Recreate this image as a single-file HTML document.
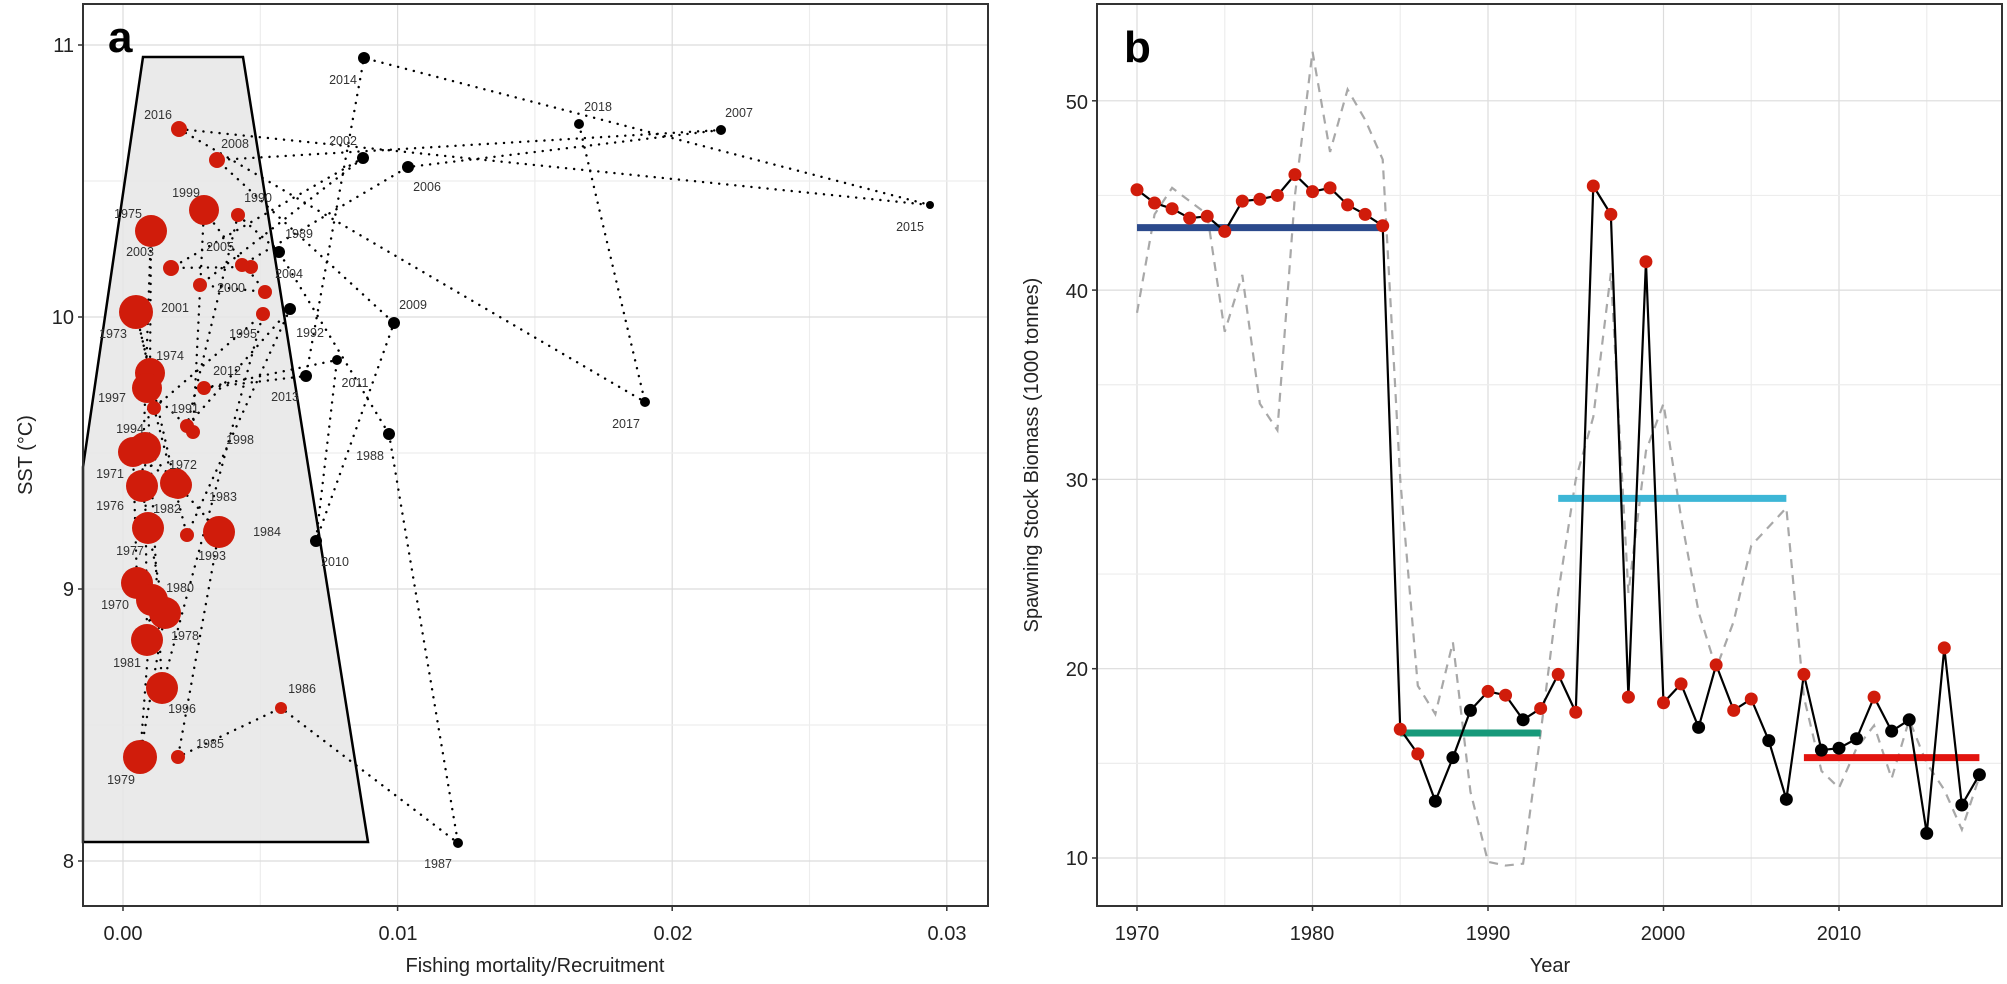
<!DOCTYPE html>
<html><head><meta charset="utf-8"><style>
html,body{margin:0;padding:0;background:#fff;}
svg{display:block;font-family:"Liberation Sans",Arial,sans-serif;}
</style></head><body>
<svg id="s" width="2007" height="984" viewBox="0 0 2007 984" xmlns="http://www.w3.org/2000/svg">
<rect width="2007" height="984" fill="#fff"/>
<g id="ga"></g>
<g id="gb"></g>
<!-- panel a text -->
<g font-size="20" fill="#222" text-anchor="end">
<text x="74" y="52">11</text><text x="74" y="324">10</text><text x="74" y="596">9</text><text x="74" y="868">8</text>
</g>
<g font-size="20" fill="#222" text-anchor="middle">
<text x="123" y="940">0.00</text><text x="398" y="940">0.01</text><text x="673" y="940">0.02</text><text x="947" y="940">0.03</text>
<text x="535" y="972">Fishing mortality/Recruitment</text>
<text transform="translate(32,455) rotate(-90)">SST (°C)</text>
</g>
<text x="108" y="52" font-size="44" font-weight="bold" fill="#000">a</text>
<g font-size="12.5" fill="#333" text-anchor="middle">
<text x="158" y="119">2016</text><text x="235" y="148">2008</text><text x="343" y="145">2002</text><text x="343" y="84">2014</text>
<text x="186" y="197">1999</text><text x="258" y="202">1990</text><text x="128" y="218">1975</text><text x="299" y="238">1989</text>
<text x="140" y="256">2003</text><text x="220" y="251">2005</text><text x="289" y="278">2004</text><text x="231" y="292">2000</text>
<text x="427" y="191">2006</text><text x="175" y="312">2001</text><text x="413" y="309">2009</text>
<text x="113" y="338">1973</text><text x="243" y="338">1995</text><text x="310" y="337">1992</text><text x="170" y="360">1974</text>
<text x="227" y="375">2012</text><text x="355" y="387">2011</text><text x="285" y="401">2013</text><text x="112" y="402">1997</text>
<text x="185" y="413">1991</text><text x="130" y="433">1994</text><text x="240" y="444">1998</text><text x="370" y="460">1988</text>
<text x="183" y="469">1972</text><text x="110" y="478">1971</text><text x="223" y="501">1983</text><text x="110" y="510">1976</text>
<text x="167" y="513">1982</text><text x="267" y="536">1984</text><text x="130" y="555">1977</text><text x="212" y="560">1993</text>
<text x="335" y="566">2010</text><text x="180" y="592">1980</text><text x="115" y="609">1970</text><text x="185" y="640">1978</text>
<text x="127" y="667">1981</text><text x="302" y="693">1986</text><text x="182" y="713">1996</text><text x="210" y="748">1985</text>
<text x="121" y="784">1979</text><text x="438" y="868">1987</text>
<text x="598" y="111">2018</text><text x="739" y="117">2007</text><text x="910" y="231">2015</text><text x="626" y="428">2017</text>
</g>
<!-- panel b text -->
<g font-size="20" fill="#222" text-anchor="end">
<text x="1088" y="865">10</text><text x="1088" y="676">20</text><text x="1088" y="487">30</text><text x="1088" y="298">40</text><text x="1088" y="109">50</text>
</g>
<g font-size="20" fill="#222" text-anchor="middle">
<text x="1137" y="940">1970</text><text x="1312" y="940">1980</text><text x="1488" y="940">1990</text><text x="1663" y="940">2000</text><text x="1839" y="940">2010</text>
<text x="1550" y="972">Year</text>
<text transform="translate(1038,455) rotate(-90)">Spawning Stock Biomass (1000 tonnes)</text>
</g>
<text x="1124" y="62" font-size="44" font-weight="bold" fill="#000">b</text>
</svg>
<script>
var NS="http://www.w3.org/2000/svg";
function el(p,t,a){var e=document.createElementNS(NS,t);for(var k in a)e.setAttribute(k,a[k]);p.appendChild(e);return e;}
var ga=document.getElementById("ga"),gb=document.getElementById("gb");
var AX=function(v){return 123+v*27460;},AY=function(s){return 45+(11-s)*272;};
var L=83,T=4,R=988,B=906;
el(ga,"rect",{x:L,y:T,width:R-L,height:B-T,fill:"#fff"});
for(var v=-0.0;v<=0.0301;v+=0.005){el(ga,"line",{x1:AX(v),x2:AX(v),y1:T,y2:B,stroke:Math.abs(v*100-Math.round(v*100))<1e-6?"#dcdcdc":"#ededed","stroke-width":1.2});}
for(var s=7.5;s<=11.01;s+=0.5){var y=AY(s);if(y<T||y>B)continue;el(ga,"line",{x1:L,x2:R,y1:y,y2:y,stroke:(s%1==0)?"#dcdcdc":"#ededed","stroke-width":1.2});}
el(ga,"polygon",{points:"143,57 243,57 368,842 83,842 83,467",fill:"#e6e6e6","fill-opacity":0.85,stroke:"#000","stroke-width":2.5});
var P={1970:[137,583,16,1],1971:[133,452,15,1],1972:[175,483,15,1],1973:[136,312,17,1],1974:[150,373,15,1],1975:[151,231,16,1],
1976:[142,486,16,1],1977:[148,528,16,1],1978:[165,613,16,1],1979:[140,757,17,1],1980:[152,600,16,1],1981:[147,640,16,1],
1982:[145,448,16,1],1983:[178,485,14,1],1984:[219,532,16,1],1985:[178,757,7,1],1986:[281,708,6,1],1987:[458,843,5,0],
1988:[389,434,6,0],1989:[279,252,6,0],1990:[238,215,7,1],1991:[187,426,7,1],1992:[290,309,6,0],1993:[187,535,7,1],
1994:[154,408,7,1],1995:[263,314,7,1],1996:[162,688,16,1],1997:[147,388,15,1],1998:[193,432,7,1],1999:[204,210,15,1],
2000:[265,292,7,1],2001:[200,285,7,1],2002:[363,158,6,0],2003:[171,268,8,1],2004:[251,267,7,1],2005:[242,265,7,1],
2006:[408,167,6,0],2007:[721,130,5,0],2008:[217,160,8,1],2009:[394,323,6,0],2010:[316,541,6,0],2011:[337,360,5,0],
2012:[204,388,7,1],2013:[306,376,6,0],2014:[364,58,6,0],2015:[930,205,4,0],2016:[179,129,8,1],2017:[645,402,5,0],2018:[579,124,5,0]};
var pts=[];for(var yr=1970;yr<=2018;yr++)pts.push(P[yr][0]+","+P[yr][1]);
el(ga,"polyline",{points:pts.join(" "),fill:"none",stroke:"#000","stroke-width":2.4,"stroke-dasharray":"0.1 8","stroke-linecap":"round"});
for(var yr=1970;yr<=2018;yr++){var p=P[yr];el(ga,"circle",{cx:p[0],cy:p[1],r:p[2],fill:p[3]?"#d01c0b":"#000"});}
el(ga,"rect",{x:L,y:T,width:R-L,height:B-T,fill:"none",stroke:"#333","stroke-width":2});
for(var s=8;s<=11;s++)el(ga,"line",{x1:L-5,x2:L,y1:AY(s),y2:AY(s),stroke:"#333","stroke-width":1.5});
for(var v=0;v<=0.03001;v+=0.01)el(ga,"line",{x1:AX(v),x2:AX(v),y1:B,y2:B+5,stroke:"#333","stroke-width":1.5});
var BX=function(y){return 1137+(y-1970)*17.55;},BY=function(v){return 858-(v-10)*18.93;};
var L2=1097,R2=2002;
for(var y=1970;y<=2015;y+=5)el(gb,"line",{x1:BX(y),x2:BX(y),y1:T,y2:B,stroke:y%10==0?"#dcdcdc":"#ededed","stroke-width":1.2});
for(var v=10;v<=50;v+=5)el(gb,"line",{x1:L2,x2:R2,y1:BY(v),y2:BY(v),stroke:v%10==0?"#dcdcdc":"#ededed","stroke-width":1.2});
var G=[38.8,44.0,45.4,44.7,44.0,37.8,40.8,34.0,32.6,45.0,52.6,47.3,50.6,49.0,46.9,30.0,19.1,17.6,21.4,13.5,9.8,9.6,9.7,16.6,24.0,30.0,33.3,40.9,24.0,31.5,34.0,28.0,23.0,20.0,22.5,26.5,27.5,28.5,18.5,14.6,13.7,15.8,17.0,14.2,17.3,15.0,13.6,11.5,14.3];
var S=[45.3,44.6,44.3,43.8,43.9,43.1,44.7,44.8,45.0,46.1,45.2,45.4,44.5,44.0,43.4,16.8,15.5,13.0,15.3,17.8,18.8,18.6,17.3,17.9,19.7,17.7,45.5,44.0,18.5,41.5,18.2,19.2,16.9,20.2,17.8,18.4,16.2,13.1,19.7,15.7,15.8,16.3,18.5,16.7,17.3,11.3,21.1,12.8,14.4];
var C=[1,1,1,1,1,1,1,1,1,1,1,1,1,1,1,1,1,0,0,0,1,1,0,1,1,1,1,1,1,1,1,1,0,1,1,1,0,0,1,0,0,0,1,0,0,0,1,0,0];
var gp=[],sp=[];for(var i=0;i<49;i++){gp.push(BX(1970+i)+","+BY(G[i]));sp.push(BX(1970+i)+","+BY(S[i]));}
el(gb,"polyline",{points:gp.join(" "),fill:"none",stroke:"#a8a8a8","stroke-width":2.2,"stroke-dasharray":"9 7"});
[[1970,1984,43.3,"#2b4a8c"],[1985,1993,16.6,"#17997a"],[1994,2007,29.0,"#3db6d6"],[2008,2018,15.3,"#e2140f"]].forEach(function(m){
el(gb,"line",{x1:BX(m[0]),x2:BX(m[1]),y1:BY(m[2]),y2:BY(m[2]),stroke:m[3],"stroke-width":7});});
el(gb,"polyline",{points:sp.join(" "),fill:"none",stroke:"#000","stroke-width":2.2});
for(var i=0;i<49;i++)el(gb,"circle",{cx:BX(1970+i),cy:BY(S[i]),r:6.5,fill:C[i]?"#d01c0b":"#000"});
el(gb,"rect",{x:L2,y:T,width:R2-L2,height:B-T,fill:"none",stroke:"#333","stroke-width":2});
for(var v=10;v<=50;v+=10)el(gb,"line",{x1:L2-5,x2:L2,y1:BY(v),y2:BY(v),stroke:"#333","stroke-width":1.5});
for(var y=1970;y<=2010;y+=10)el(gb,"line",{x1:BX(y),x2:BX(y),y1:B,y2:B+5,stroke:"#333","stroke-width":1.5});
</script>
</body></html>
